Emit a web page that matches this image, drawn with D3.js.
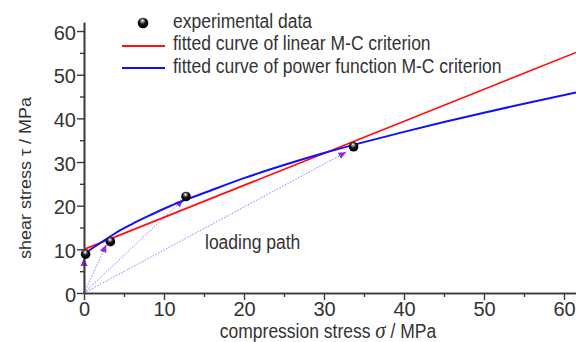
<!DOCTYPE html>
<html><head><meta charset="utf-8">
<script src="https://cdn.jsdelivr.net/npm/d3@7"></script>
<style>
html,body{margin:0;padding:0;background:#fff;}
svg{display:block;}
text{font-family:"Liberation Sans",Arial,sans-serif;fill:#333;}
</style></head>
<body>
<svg id="chart" width="576" height="342"></svg>
<script>
// ---- data ----
const xTicks = [0, 10, 20, 30, 40, 50, 60];
const yTicks = [0, 10, 20, 30, 40, 50, 60];
const minorTicks = [5, 15, 25, 35, 45, 55];
// experimental data (sigma, tau)
const expSigma = [0.2, 3.3, 12.75, 33.7];
const expTau = [8.9, 11.75, 22.1, 33.5];
// linear M-C fitted line
const linSigma = [0, 61.5];
const linTau = [10.0, 55.1];
// power function M-C fitted curve
const powSigma = [0, 1, 2, 3, 4, 6, 8, 10, 12.5, 15, 20, 25, 30, 35, 40, 45, 50, 55, 61.5];
const powTau = [8.9, 10.2, 11.4, 12.6, 13.8, 15.8, 17.6, 19.3, 21.2, 22.9, 26.3, 29.3, 32.05, 34.55, 36.9, 39.15, 41.3, 43.35, 45.9];
// loading paths: end points of arrows (start at origin)
const pathSigma = [0, 2.8, 12.4, 32.8];
const pathTau = [8.0, 11.1, 21.4, 32.3];
const legendLabels = ["experimental data", "fitted curve of linear M-C criterion", "fitted curve of power function M-C criterion"];

// ---- drawing ----
const svg = d3.select("#chart");
const x = d3.scaleLinear().domain([0, 61.5]).range([84, 576]);
const y = d3.scaleLinear().domain([0, 62]).range([293, 22.3]);
const SX = 0.875; // narrow look of the reference lettering

const defs = svg.append("defs");
const grad = defs.append("radialGradient").attr("id", "ball")
  .attr("cx", "45%").attr("cy", "35%").attr("r", "60%").attr("fx", "45%").attr("fy", "28%");
grad.append("stop").attr("offset", "0%").attr("stop-color", "#ffffff");
grad.append("stop").attr("offset", "20%").attr("stop-color", "#9a9a9a");
grad.append("stop").attr("offset", "50%").attr("stop-color", "#151515");
grad.append("stop").attr("offset", "100%").attr("stop-color", "#000");

defs.append("marker").attr("id", "arr")
  .attr("markerUnits", "userSpaceOnUse")
  .attr("viewBox", "0 -4 8 8").attr("refX", 8).attr("refY", 0)
  .attr("markerWidth", 8).attr("markerHeight", 8).attr("orient", "auto")
  .append("path").attr("d", "M0,-3.5L8,0L0,3.5Z").attr("fill", "#8c2cf0");

// loading paths
svg.append("g").selectAll("line").data(pathSigma).join("line")
  .attr("x1", x(0)).attr("y1", y(0))
  .attr("x2", d => x(d)).attr("y2", (d, i) => y(pathTau[i]))
  .attr("stroke", "#a872ff").attr("stroke-width", 1)
  .attr("stroke-dasharray", "1.5,1.5")
  .attr("marker-end", "url(#arr)");

// axes
const axisColor = "#3a3a3a";
function styleAxis(g) {
  g.selectAll(".domain").attr("stroke", axisColor).attr("stroke-width", 1.6);
  g.selectAll(".tick line").attr("stroke", axisColor).attr("stroke-width", 1.4);
  g.selectAll("text").attr("fill", "#333").style("font-size", "20px")
    .attr("font-family", null);
}
const gxMinor = svg.append("g").attr("transform", `translate(0,${y(0)})`)
  .call(d3.axisBottom(x).tickValues(minorTicks).tickSize(4).tickSizeOuter(0).tickFormat(""));
styleAxis(gxMinor);
const gyMinor = svg.append("g").attr("transform", `translate(${x(0)},0)`)
  .call(d3.axisLeft(y).tickValues(minorTicks).tickSize(4).tickSizeOuter(0).tickFormat(""));
styleAxis(gyMinor);
const gx = svg.append("g").attr("transform", `translate(0,${y(0)})`)
  .call(d3.axisBottom(x).tickValues(xTicks).tickSize(7).tickSizeOuter(0).tickPadding(2).tickFormat(d3.format("d")));
styleAxis(gx);
const gy = svg.append("g").attr("transform", `translate(${x(0)},0)`)
  .call(d3.axisLeft(y).tickValues(yTicks).tickSize(7).tickSizeOuter(0).tickPadding(1).tickFormat(d3.format("d")));
styleAxis(gy);
gy.selectAll("text").attr("dy", "0.4em");

// fitted curves
const line = d3.line().x(d => x(d[0])).y(d => y(d[1]));
svg.append("path").datum(linSigma.map((s, i) => [s, linTau[i]]))
  .attr("d", line).attr("fill", "none").attr("stroke", "#ff1010").attr("stroke-width", 1.7);
svg.append("path").datum(powSigma.map((s, i) => [s, powTau[i]]))
  .attr("d", line.curve(d3.curveMonotoneX)).attr("fill", "none").attr("stroke", "#1010ff").attr("stroke-width", 2);

// experimental points
svg.append("g").selectAll("circle").data(expSigma).join("circle")
  .attr("cx", d => x(d)).attr("cy", (d, i) => y(expTau[i])).attr("r", 4.8)
  .attr("fill", "url(#ball)");

// loading path label
svg.append("text").attr("transform", `translate(205,249) scale(${SX},1)`)
  .style("font-size", "20px").text("loading path");

// legend
const lg = svg.append("g");
lg.append("circle").attr("cx", 143).attr("cy", 23).attr("r", 5.3).attr("fill", "url(#ball)");
lg.append("line").attr("x1", 122).attr("x2", 165).attr("y1", 46).attr("y2", 46)
  .attr("stroke", "#ff1010").attr("stroke-width", 2);
lg.append("line").attr("x1", 122).attr("x2", 165).attr("y1", 68).attr("y2", 68)
  .attr("stroke", "#1010ff").attr("stroke-width", 2);
lg.selectAll("text.lab").data(legendLabels).join("text").attr("class", "lab")
  .attr("transform", (d, i) => `translate(173,${28 + i * 22.3}) scale(${SX},1)`)
  .style("font-size", "20px").text(d => d);

// axis titles
const yt = svg.append("text").attr("transform", "translate(31,178) rotate(-90) scale(1,0.9)")
  .attr("text-anchor", "middle").style("font-size", "18px");
yt.append("tspan").text("shear stress ");
yt.append("tspan").text("τ");
yt.append("tspan").text(" / MPa");

const xt = svg.append("text").attr("transform", `translate(328,338) scale(${SX},1)`)
  .attr("text-anchor", "middle").style("font-size", "20px");
xt.append("tspan").text("compression stress ");
xt.append("tspan").style("font-family", "'Liberation Serif','Times New Roman',serif")
  .style("font-style", "italic").style("font-size", "24px").text("σ");
xt.append("tspan").text(" / MPa");
</script>
</body></html>
